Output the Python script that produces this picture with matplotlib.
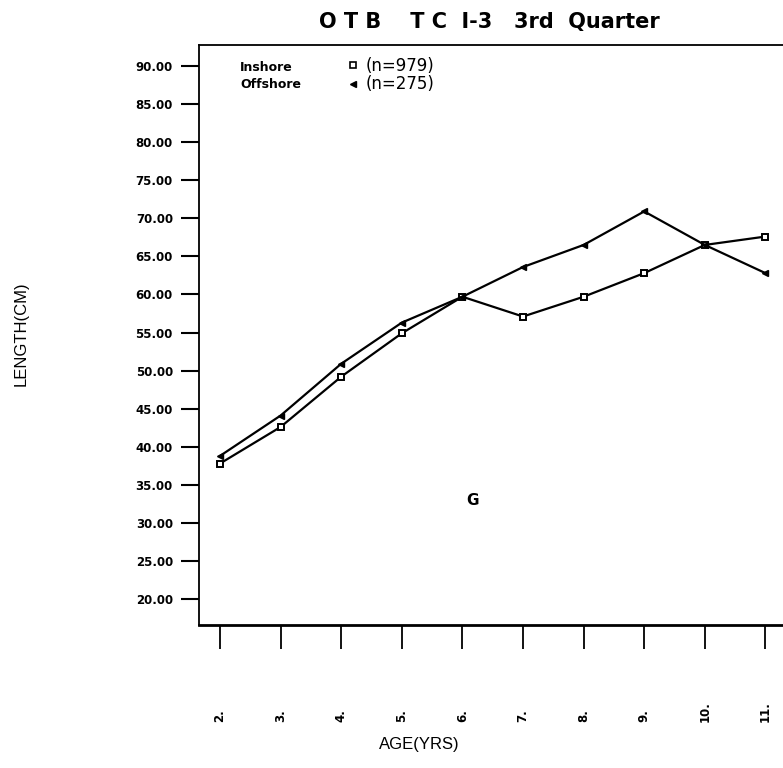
import matplotlib
matplotlib.use("Agg")
import matplotlib.pyplot as plt
from matplotlib.lines import Line2D
from matplotlib.ticker import FormatStrFormatter
import matplotlib.transforms as mtransforms

# mean length at age, 3rd quarter, TC I-3
ages = [2, 3, 4, 5, 6, 7, 8, 9, 10, 11]
inshore = [37.8, 42.6, 49.2, 54.9, 59.7, 57.1, 59.7, 62.8, 66.5, 67.6]
offshore = [38.8, 44.1, 50.9, 56.3, 59.7, 63.6, 66.5, 70.9, 66.5, 62.8]
age_labels = ["2.", "3.", "4.", "5.", "6.", "7.", "8.", "9.", "10.", "11."]
y_ticks = [20, 25, 30, 35, 40, 45, 50, 55, 60, 65, 70, 75, 80, 85, 90]
series_names = ["Inshore", "Offshore"]
counts = ["(n=979)", "(n=275)"]

fig = plt.figure(figsize=(7.83, 7.68), dpi=100)
ax = fig.add_axes([0.2545, 0.1862, 0.7455, 0.7552])

ax.plot(ages, inshore, color="black", lw=1.6, marker="s", ms=5,
        mfc="white", mec="black", mew=1.4)
ax.plot(ages, offshore, color="black", lw=1.6, marker="<", ms=4,
        mfc="black", mec="black")

ax.set_xlim(1.658, 11.29)
ax.set_ylim(16.6, 92.75)
ax.spines["right"].set_visible(False)
for s in ["left", "top"]:
    ax.spines[s].set_linewidth(1.3)
ax.spines["bottom"].set_linewidth(2.0)

ax.set_yticks(y_ticks)
ax.yaxis.set_major_formatter(FormatStrFormatter("%.2f"))
ax.tick_params(axis="y", direction="out", length=13, width=1.5, pad=6,
               labelsize=8.5)
for lab in ax.get_yticklabels():
    lab.set_fontweight("bold")

ax.set_xticks(ages)
ax.set_xticklabels([])
ax.tick_params(axis="x", direction="out", length=17, width=1.3)

# rotated age labels, bottom aligned below the ticks
trans = mtransforms.blended_transform_factory(ax.transData, ax.transAxes)
for a, lab in zip(ages, age_labels):
    ax.text(a, -0.167, lab, transform=trans, rotation=90, ha="center",
            va="bottom", fontsize=8.5, fontweight="bold")

fig.text(0.536, 0.030, "AGE(YRS)", ha="center", va="center",
         fontsize=12, family="Liberation Sans")
fig.text(0.027, 0.565, "LENGTH(CM)", rotation=90, ha="center", va="center",
         fontsize=12, family="Liberation Sans")
fig.text(0.625, 0.972, "O T B    T C  I-3   3rd  Quarter", ha="center",
         va="center", fontsize=15, fontweight="bold")

# key: names on the left, symbol + sample size on the right
handles = [Line2D([], [], ls="none", marker="s", ms=5, mfc="white",
                  mec="black", mew=1.2),
           Line2D([], [], ls="none", marker="<", ms=4, color="black")]
ax.legend(handles, counts, loc="upper left", bbox_to_anchor=(0.255, 0.980),
          frameon=False, handlelength=0.6, handletextpad=0.45,
          labelspacing=0.05, borderaxespad=0, borderpad=0,
          prop={"size": 12})
for i, name in enumerate(series_names):
    ax.text(0.07, 0.961 - i * 0.029, name, transform=ax.transAxes,
            ha="left", va="center", fontsize=9, fontweight="bold")

ax.text(0.468, 0.215, "G", transform=ax.transAxes, ha="center",
        va="center", fontsize=11, fontweight="bold")

fig.savefig("out.png", dpi=100)
